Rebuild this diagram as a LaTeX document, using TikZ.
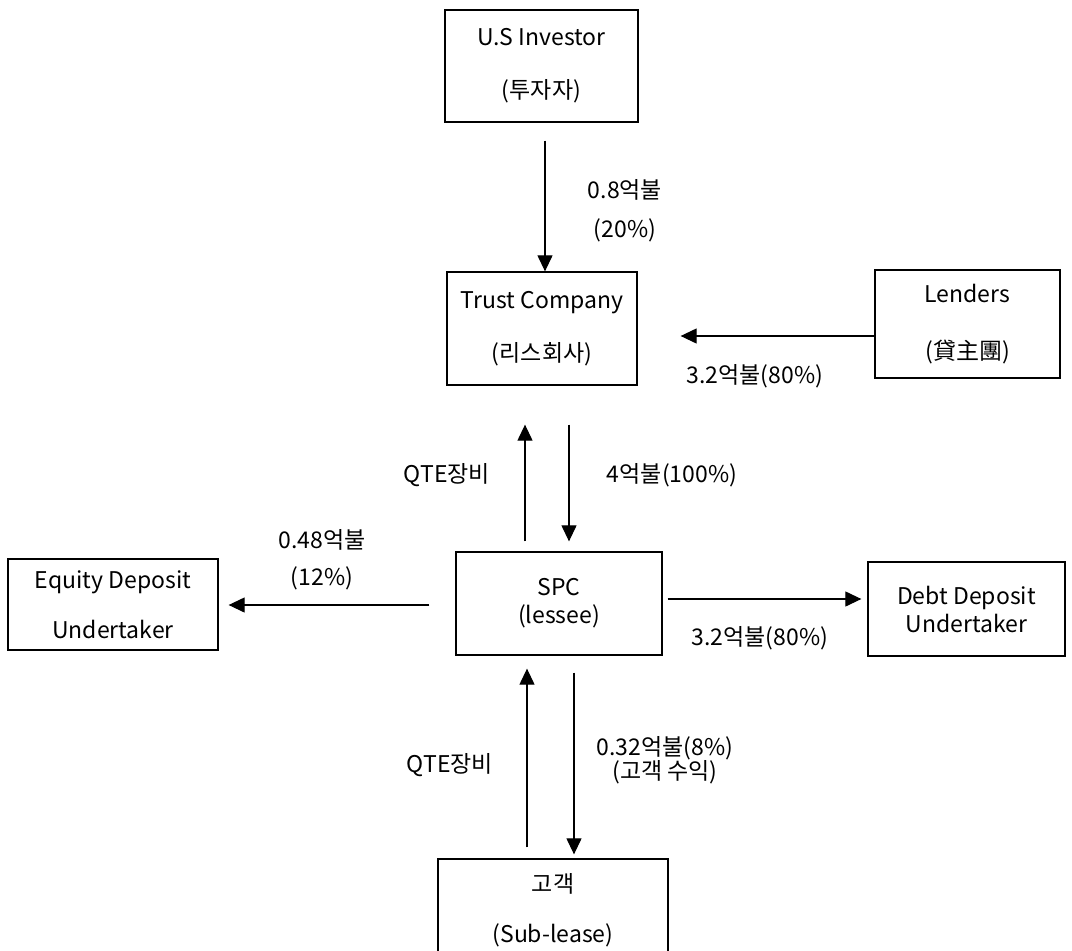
\documentclass[tikz,border=0pt]{standalone}
\usepackage{fontspec}
\setmainfont{Noto Sans CJK KR}
\usetikzlibrary{arrows.meta}

\begin{document}
\begin{tikzpicture}[x=1pt,y=-1pt,
    box/.style={draw,line width=1.3pt,align=center,inner sep=0pt,
        font=\fontsize{23}{28}\selectfont},
    arr/.style={line width=1.2pt,-{Triangle[width=15pt,length=16pt]}},
    lbl/.style={align=center,font=\fontsize{23}{28}\selectfont}]
    \useasboundingbox (0,0) rectangle (1072,951);
    \clip (0,0) rectangle (1072,951);
    % boxes
    \node[box,minimum width=193,minimum height=112] (inv) at (541.5,66)
        {U.S Investor\\[25pt](투자자)};
    \node[box,minimum width=190,minimum height=113] (trust) at (542,328.5)
        {Trust Company\\[25pt](리스회사)};
    \node[box,minimum width=185,minimum height=108] (lend) at (967.5,324)
        {Lenders\\[29pt](貸主團)};
    \node[box,minimum width=206,minimum height=103] (spc) at (559,603.5)
        {SPC\\(lessee)};
    \node[box,minimum width=210,minimum height=91] (eq) at (113,604.5)
        {Equity Deposit\\[22pt]Undertaker};
    \node[box,minimum width=197,minimum height=94] (debt) at (966.5,609)
        {Debt Deposit\\Undertaker};
    \node[box,minimum width=230,minimum height=102] (cust) at (553,910)
        {고객\\[22pt](Sub-lease)};
    % flows
    \draw[arr] ([shift={(3.5,18)}]inv.south) -- ([shift={(3,0)}]trust.north);
    \node[lbl] (l1) at (625,190) {0.8억불};
    \node[lbl] (l2) at (625,230) {(20\%)};
    \draw[arr] ([shift={(0,12)}]lend.west) -- ([shift={(43,7.5)}]trust.east);
    \node[lbl] (l3) at (755,376) {3.2억불(80\%)};
    \draw[arr] ([shift={(-34,-10)}]spc.north) -- ([shift={(-17,39)}]trust.south);
    \node[lbl] (l4) at (447,475) {QTE장비};
    \draw[arr] ([shift={(27,39)}]trust.south) -- ([shift={(10,-10)}]spc.north);
    \node[lbl] (l5) at (672,475) {4억불(100\%)};
    \draw[arr] ([shift={(-26,1.5)}]spc.west) -- ([shift={(10,0.5)}]eq.east);
    \node[lbl] (l6) at (322,540) {0.48억불};
    \node[lbl] (l7) at (322,578) {(12\%)};
    \draw[arr] ([shift={(5,-4.5)}]spc.east) -- ([shift={(-6,-10)}]debt.west);
    \node[lbl] (l8) at (760,638) {3.2억불(80\%)};
    \draw[arr] ([shift={(-26,-11)}]cust.north) -- ([shift={(-32,13)}]spc.south);
    \node[lbl] (l9) at (450,765) {QTE장비};
    \draw[arr] ([shift={(15,17)}]spc.south) -- ([shift={(21,-4)}]cust.north);
    \node[lbl] (l10) at (665,760) {0.32억불(8\%)\\[-4pt](고객 수익)};
\end{tikzpicture}
\end{document}
